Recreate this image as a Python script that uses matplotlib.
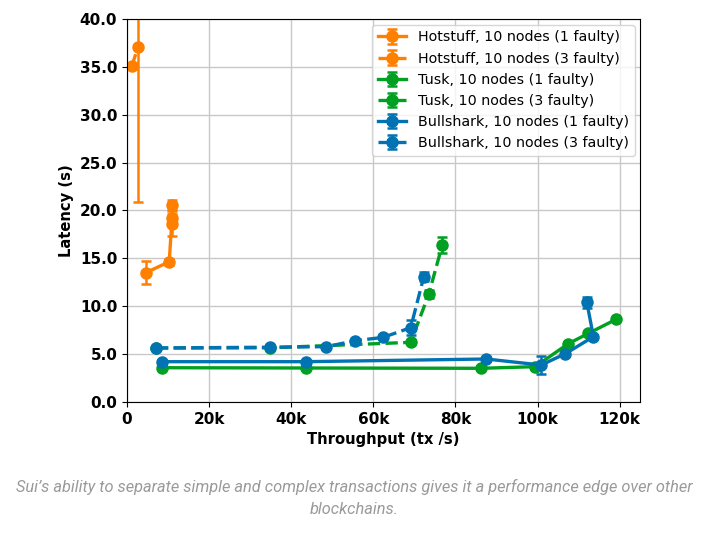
import matplotlib
matplotlib.use("Agg")
import matplotlib.pyplot as plt
from matplotlib.ticker import FuncFormatter

# Hotstuff
hs1_x = [4600, 10300, 10900, 11000, 11100]
hs1_y = [13.5, 14.65, 18.6, 19.2, 20.6]
hs1_e = [1.2, 0.3, 1.3, 0.4, 0.5]
hs3_x = [1200, 2750]
hs3_y = [35.1, 37.1]
hs3_e = [0.3, 16.2]

# Tusk
tk1_x = [8600, 43500, 86300, 99400, 107500, 112400, 119100]
tk1_y = [3.58, 3.55, 3.52, 3.69, 6.09, 7.17, 8.63]
tk1_e = [0.1, 0.1, 0.1, 0.2, 0.2, 0.2, 0.1]
tk3_x = [7060, 34800, 69100, 73500, 76800]
tk3_y = [5.64, 5.66, 6.23, 11.25, 16.4]
tk3_e = [0.1, 0.1, 0.2, 0.4, 0.8]

# Bullshark
bs1_x = [8600, 43500, 87500, 100900, 106800, 113600, 112000]
bs1_y = [4.21, 4.21, 4.49, 3.86, 5.05, 6.82, 10.41]
bs1_e = [0.1, 0.1, 0.1, 0.9, 0.2, 0.2, 0.6]
bs3_x = [7060, 34800, 48600, 55600, 62400, 69100, 72300]
bs3_y = [5.64, 5.72, 5.78, 6.40, 6.75, 7.76, 13.09]
bs3_e = [0.1, 0.1, 0.1, 0.1, 0.2, 0.8, 0.5]

orange = '#ff7f00'
green = '#00a020'
blue = '#0173b2'

fig = plt.figure(figsize=(7.09, 5.38), dpi=100)
ax = fig.add_axes([0.179, 0.2528, 0.724, 0.7119])

series = [
    (hs1_x, hs1_y, hs1_e, orange, '-', 'Hotstuff, 10 nodes (1 faulty)'),
    (hs3_x, hs3_y, hs3_e, orange, '--', 'Hotstuff, 10 nodes (3 faulty)'),
    (tk1_x, tk1_y, tk1_e, green, '-', 'Tusk, 10 nodes (1 faulty)'),
    (tk3_x, tk3_y, tk3_e, green, '--', 'Tusk, 10 nodes (3 faulty)'),
    (bs1_x, bs1_y, bs1_e, blue, '-', 'Bullshark, 10 nodes (1 faulty)'),
    (bs3_x, bs3_y, bs3_e, blue, '--', 'Bullshark, 10 nodes (3 faulty)'),
]
for x, y, e, c, ls, lab in series:
    ax.errorbar(x, y, yerr=e, color=c, linestyle=ls, linewidth=2.4, marker='o',
                markersize=8, capsize=3.5, capthick=1.8, elinewidth=1.8, label=lab)

ax.set_xlim(0, 125000)
ax.set_ylim(0, 40)
ax.set_xticks(range(0, 120001, 20000))
ax.xaxis.set_major_formatter(FuncFormatter(lambda v, p: '0' if v == 0 else f'{int(v/1000)}k'))
ax.set_yticks([0, 5, 10, 15, 20, 25, 30, 35, 40])
ax.yaxis.set_major_formatter(FuncFormatter(lambda v, p: f'{v:.1f}'))
for t in ax.get_xticklabels() + ax.get_yticklabels():
    t.set_fontweight('bold')
    t.set_fontsize(11)
ax.grid(True, color='#c8c8c8', linewidth=1)
ax.set_axisbelow(True)
ax.set_xlabel('Throughput (tx /s)', fontweight='bold', fontsize=10.6)
ax.set_ylabel('Latency (s)', fontweight='bold', fontsize=10.6)

leg = ax.legend(loc='upper right', fontsize=10.3, handlelength=2.0, labelspacing=0.5,
                borderaxespad=0.4)
for h in leg.legend_handles:
    for ch in h.get_children():
        try:
            ch.set_linestyle('-')
        except Exception:
            pass

fig.text(0.5, 0.074, "Sui\u2019s ability to separate simple and complex transactions gives it a performance edge over other\nblockchains.",
         ha='center', va='center', fontsize=11.8, family='Roboto', style='italic',
         color='#9a9a9a', linespacing=1.55)

fig.savefig('out.png', dpi=100)
